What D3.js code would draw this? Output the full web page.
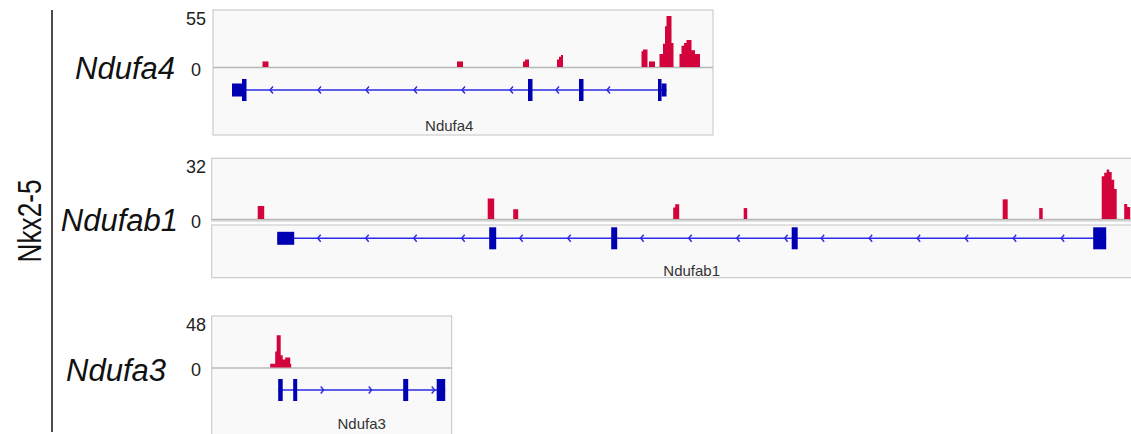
<!DOCTYPE html>
<html>
<head>
<meta charset="utf-8">
<script src="https://cdn.jsdelivr.net/npm/d3@7"></script>
<style>
  body { margin: 0; background: #fff; }
  svg { display: block; font-family: "Liberation Sans", Arial, sans-serif; }
</style>
</head>
<body>
<div id="chart"></div>
<script>
// ---- data (positions in kb from the left edge of each locus window) ----
var factorName = "Nkx2-5";
var genes = ["Ndufa4", "Ndufab1", "Ndufa3"];
var locusSpan = [10, 18.4, 4.8];          // kb shown in each window
var dataMax = [55, 32, 48];               // IGV data range
var strands = ["-", "-", "+"];

// coverage bins: [start, end, value]
var ndufa4Cov = [
  [0.99, 1.11, 6], [4.88, 5.00, 6], [6.20, 6.24, 6], [6.24, 6.32, 8],
  [6.88, 6.92, 8], [6.92, 6.96, 11], [6.96, 7.00, 13],
  [8.57, 8.60, 17], [8.60, 8.69, 19], [8.72, 8.84, 6],
  [8.93, 9.00, 14], [9.00, 9.04, 25], [9.04, 9.07, 44], [9.07, 9.17, 55], [9.17, 9.21, 26],
  [9.33, 9.37, 14], [9.37, 9.42, 23], [9.42, 9.47, 26], [9.47, 9.57, 29], [9.57, 9.64, 18], [9.64, 9.74, 14]
];
var ndufab1Cov = [
  [0.92, 1.05, 7.6], [5.52, 5.65, 12], [6.03, 6.13, 5.7],
  [9.23, 9.27, 6.8], [9.27, 9.35, 8.6], [10.64, 10.71, 6.4],
  [15.82, 15.92, 11.5], [16.55, 16.62, 6.4],
  [17.80, 17.85, 25], [17.85, 17.90, 27], [17.90, 17.95, 29], [17.95, 18.00, 27.5],
  [18.00, 18.05, 23], [18.05, 18.10, 17.5],
  [18.25, 18.31, 8.8], [18.31, 18.37, 7]
];
var ndufa3Cov = [
  [1.17, 1.27, 4], [1.27, 1.30, 17], [1.30, 1.38, 34], [1.38, 1.42, 13],
  [1.42, 1.47, 8.5], [1.47, 1.57, 10.5], [1.57, 1.59, 4]
];

// exons: [start, end, kind]
var ndufa4Exons = [[0.38, 0.58, "utr"], [0.58, 0.67, "cds"], [6.30, 6.39, "cds"], [7.32, 7.41, "cds"], [8.90, 8.97, "cds"], [8.97, 9.07, "utr"]];
var ndufab1Exons = [[1.31, 1.65, "utr"], [5.55, 5.69, "cds"], [7.99, 8.11, "cds"], [11.60, 11.72, "cds"], [17.63, 17.89, "cds"]];
var ndufa3Exons = [[1.33, 1.42, "cds"], [1.63, 1.71, "cds"], [3.83, 3.93, "cds"], [4.50, 4.67, "cds"]];

var coverage = [ndufa4Cov, ndufab1Cov, ndufa3Cov];
var exons = [ndufa4Exons, ndufab1Exons, ndufa3Exons];

// ---- layout ----
var W = 1131, H = 434;
var panels = [
  { left: 213, top: 10, zero: 67.5, bottom: 135, geneTop: null, geneY: 90, nameY: 130.5, labelRight: 175, labelY: 79 },
  { left: 211.7, top: 158.3, zero: 219.5, bottom: 277.7, geneTop: 225, geneY: 238.3, nameY: 276, labelRight: 178, labelY: 231 },
  { left: 211.7, top: 316, zero: 368, bottom: 440, geneTop: null, geneY: 390, nameY: 429, labelRight: 166, labelY: 381 }
];
var pxPerKb = 50;
var peakColor = "#d3043c", exonColor = "#0000b3", intronColor = "#2b2be6";

var svg = d3.select("#chart").append("svg")
  .attr("width", W)
  .attr("height", H);

// factor label + bracket line
svg.append("line")
  .attr("x1", 52).attr("x2", 52)
  .attr("y1", 10).attr("y2", 432)
  .attr("stroke", "#111")
  .attr("stroke-width", 1.5);

svg.append("text")
  .attr("transform", "translate(41,221) rotate(-90)")
  .attr("text-anchor", "middle")
  .attr("font-size", "33px")
  .attr("textLength", 83)
  .attr("lengthAdjust", "spacingAndGlyphs")
  .attr("fill", "#111")
  .text(factorName);

// group touching bins into one step outline so no seams show between them
function runs(bins) {
  var out = [], cur = null;
  bins.forEach(function(b) {
    if (cur && Math.abs(cur[cur.length - 1][1] - b[0]) < 1e-6) cur.push(b);
    else { cur = [b]; out.push(cur); }
  });
  return out;
}

panels.forEach(function(p, i) {
  var right = p.left + locusSpan[i] * pxPerKb;
  var x = d3.scaleLinear().domain([0, locusSpan[i]]).range([p.left, right]);
  var y = d3.scaleLinear().domain([0, dataMax[i]]).range([p.zero - 0.5, p.top + 6]);

  var g = svg.append("g").attr("class", "panel");

  // boxes
  if (p.geneTop) {
    g.append("rect")
      .attr("x", p.left).attr("y", p.top)
      .attr("width", right - p.left).attr("height", p.zero + 1.5 - p.top)
      .attr("fill", "#f9f9f9").attr("stroke", "#c4c4c4");
    g.append("rect")
      .attr("x", p.left).attr("y", p.geneTop)
      .attr("width", right - p.left).attr("height", p.bottom - p.geneTop)
      .attr("fill", "#f9f9f9").attr("stroke", "#c4c4c4");
  } else {
    g.append("rect")
      .attr("x", p.left).attr("y", p.top)
      .attr("width", right - p.left).attr("height", p.bottom - p.top)
      .attr("fill", "#f9f9f9").attr("stroke", "#c4c4c4");
  }
  g.append("line")
    .attr("x1", p.left).attr("x2", right)
    .attr("y1", p.zero).attr("y2", p.zero)
    .attr("stroke", "#b8b8b8").attr("stroke-width", 1.5);

  // coverage as step outlines
  var line = d3.line();
  g.selectAll("path.cov")
    .data(runs(coverage[i]))
    .enter()
    .append("path")
    .attr("class", "cov")
    .attr("d", function(run) {
      var pts = [[x(run[0][0]), y(0)]];
      run.forEach(function(d) {
        pts.push([x(d[0]), y(d[2])]);
        pts.push([x(d[1]), y(d[2])]);
      });
      pts.push([x(run[run.length - 1][1]), y(0)]);
      return line(pts) + "Z";
    })
    .attr("fill", peakColor);

  // data range labels
  var axis = g.append("g")
    .attr("transform", "translate(196,0)")
    .call(d3.axisLeft(y).tickValues([0, dataMax[i]]).tickSize(0).tickPadding(0));
  axis.select(".domain").remove();
  axis.selectAll("text")
    .attr("text-anchor", "middle")
    .attr("dy", "0.45em")
    .attr("font-size", "18px")
    .attr("font-family", "Liberation Sans, Arial, sans-serif")
    .attr("fill", "#222");

  // gene label on the left
  g.append("text")
    .attr("x", p.labelRight)
    .attr("y", p.labelY)
    .attr("text-anchor", "end")
    .attr("font-size", "31px")
    .attr("font-style", "italic")
    .attr("fill", "#111")
    .text(genes[i]);

  // gene model
  var ex = exons[i];
  var gStart = d3.min(ex, function(d) { return d[0]; });
  var gEnd = d3.max(ex, function(d) { return d[1]; });
  g.append("line")
    .attr("x1", x(gStart)).attr("x2", x(gEnd))
    .attr("y1", p.geneY).attr("y2", p.geneY)
    .attr("stroke", intronColor).attr("stroke-width", 1.6);

  // strand chevrons in each intron
  var sorted = ex.slice().sort(function(a, b) { return a[0] - b[0]; });
  var arrows = [];
  for (var k = 0; k < sorted.length - 1; k++) {
    var a = x(sorted[k][1]), b = x(sorted[k + 1][0]);
    for (var px = a + 25; px < b - 2; px += 48) arrows.push(px);
  }
  var dir = strands[i] === "-" ? 1 : -1;
  g.selectAll("path.chev")
    .data(arrows)
    .enter()
    .append("path")
    .attr("class", "chev")
    .attr("d", function(d) {
      return "M" + (d + 1.5 * dir) + "," + (p.geneY - 3.5) + "L" + (d - 1.5 * dir) + "," + p.geneY + "L" + (d + 1.5 * dir) + "," + (p.geneY + 3.5);
    })
    .attr("fill", "none")
    .attr("stroke", intronColor)
    .attr("stroke-width", 1.4);

  g.selectAll("rect.exon")
    .data(ex)
    .enter()
    .append("rect")
    .attr("class", "exon")
    .attr("x", function(d) { return x(d[0]); })
    .attr("width", function(d) { return x(d[1]) - x(d[0]); })
    .attr("y", function(d) { return p.geneY - (d[2] === "cds" ? 11 : 6.5); })
    .attr("height", function(d) { return d[2] === "cds" ? 22 : 13; })
    .attr("fill", exonColor);

  // gene name under the model
  g.append("text")
    .attr("x", (x(gStart) + x(gEnd)) / 2)
    .attr("y", p.nameY)
    .attr("text-anchor", "middle")
    .attr("font-size", "15px")
    .attr("fill", "#333")
    .text(genes[i]);
});
</script>
</body>
</html>
